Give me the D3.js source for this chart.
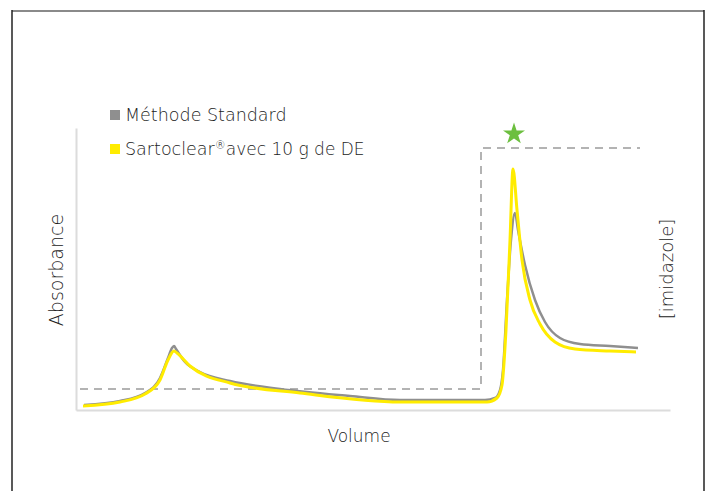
<!DOCTYPE html>
<html>
<head>
<meta charset="utf-8">
<script src="https://cdn.jsdelivr.net/npm/d3@7"></script>
<style>
  body { margin: 0; background: #fff; }
  svg text { font-family: "DejaVu Sans", sans-serif; font-weight: 200; fill: #222; }
</style>
</head>
<body>
<div id="graphic"></div>
<script>
// series (volume, absorbance) in arbitrary units
const standardVol = [8, 44, 69, 84, 92, 96, 98, 100, 109, 124, 154, 204, 274, 324, 409, 419, 424, 427, 431, 435, 439, 442, 449, 459, 469, 484, 504, 534, 562];
const standardAbs = [5, 9, 17, 32, 52, 62, 64, 61, 48, 38, 29, 21, 14, 10, 10, 12, 20, 40, 110, 170, 197, 180, 145, 110, 88, 72, 66, 64, 62];

const sartoVol = [7, 44, 69, 84, 92, 98, 101, 114, 154, 224, 324, 411, 421, 426, 430, 434, 437, 441, 446, 454, 464, 479, 499, 534, 560];
const sartoAbs = [4, 8, 16, 30, 50, 59, 57, 44, 27, 17, 8, 8, 12, 25, 80, 170, 241, 200, 150, 110, 86, 68, 61, 59, 58];

// imidazole step gradient
const imidVol = [4, 405, 405, 564];
const imidAbs = [21, 21, 262, 262];

const legendLabels = ["Méthode Standard", "Sartoclear"];
const legendSuffix = ["", "avec 10 g de DE"];
const colors = ["#8f8f8f", "#ffec00"];

const width = 710, height = 491;
const margin = {top: 128, right: 40, bottom: 81, left: 76};
const plotWidth = width - margin.left - margin.right;
const plotHeight = height - margin.top - margin.bottom;

const svg = d3.select("#graphic").append("svg")
    .attr("width", width)
    .attr("height", height);

// outer frame
svg.append("line").attr("x1", 12).attr("x2", 704).attr("y1", 11).attr("y2", 11)
    .attr("stroke", "#8a8a8a").attr("stroke-width", 2);
svg.append("line").attr("x1", 12).attr("x2", 12).attr("y1", 10).attr("y2", height)
    .attr("stroke", "#222").attr("stroke-width", 1.5);
svg.append("line").attr("x1", 704).attr("x2", 704).attr("y1", 10).attr("y2", height)
    .attr("stroke", "#222").attr("stroke-width", 1.5);

const g = svg.append("g")
    .attr("transform", "translate(" + margin.left + "," + margin.top + ")");

const x = d3.scaleLinear().domain([0, 594]).range([0, plotWidth]);
const y = d3.scaleLinear().domain([0, 282]).range([plotHeight, 0]);

// axes (no ticks)
g.append("g")
    .attr("transform", "translate(0," + plotHeight + ")")
    .call(d3.axisBottom(x).tickValues([]).tickSizeOuter(0))
    .call(a => a.select(".domain").attr("stroke", "#dcdcdc").attr("stroke-width", 2));
g.append("g")
    .call(d3.axisLeft(y).tickValues([]).tickSizeOuter(0))
    .call(a => a.select(".domain").attr("stroke", "#dcdcdc").attr("stroke-width", 2));

// dashed imidazole step
g.append("path")
    .datum(d3.zip(imidVol, imidAbs))
    .attr("fill", "none")
    .attr("stroke", "#9a9a9a")
    .attr("stroke-width", 1.5)
    .attr("stroke-dasharray", "8,6")
    .attr("d", d3.line().x(d => x(d[0])).y(d => y(d[1])));

const line = d3.line()
    .curve(d3.curveMonotoneX)
    .x(d => x(d[0]))
    .y(d => y(d[1]));

g.append("path")
    .datum(d3.zip(standardVol, standardAbs))
    .attr("fill", "none")
    .attr("stroke", colors[0])
    .attr("stroke-width", 2.5)
    .attr("d", line);

g.append("path")
    .datum(d3.zip(sartoVol, sartoAbs))
    .attr("fill", "none")
    .attr("stroke", colors[1])
    .attr("stroke-width", 3)
    .attr("d", line);

// star over the elution peak
svg.append("path")
    .attr("d", d3.symbol().type(d3.symbolStar).size(150)())
    .attr("transform", "translate(514,134)")
    .attr("fill", "#6cbf3f");

// legend
legendLabels.forEach((lab, i) => {
    const ly = 121 + i * 34;
    svg.append("rect")
        .attr("x", 110).attr("y", ly - 11)
        .attr("width", 10).attr("height", 10)
        .attr("fill", colors[i]);
    const t = svg.append("text")
        .attr("x", 125).attr("y", ly)
        .attr("font-size", 17.5)
        .text(lab);
    if (i === 1) {
        t.append("tspan").attr("dy", -6).attr("font-size", 11).text("®");
        t.append("tspan").attr("dy", 6).attr("font-size", 17).text(legendSuffix[i]);
    }
});

// axis titles
svg.append("text")
    .attr("transform", "translate(63,270) rotate(-90)")
    .attr("text-anchor", "middle")
    .attr("font-size", 19)
    .text("Absorbance");

svg.append("text")
    .attr("transform", "translate(673,269) rotate(-90)")
    .attr("text-anchor", "middle")
    .attr("font-size", 18)
    .text("[imidazole]");

svg.append("text")
    .attr("x", 359).attr("y", 442)
    .attr("text-anchor", "middle")
    .attr("font-size", 17)
    .text("Volume");
</script>
</body>
</html>
